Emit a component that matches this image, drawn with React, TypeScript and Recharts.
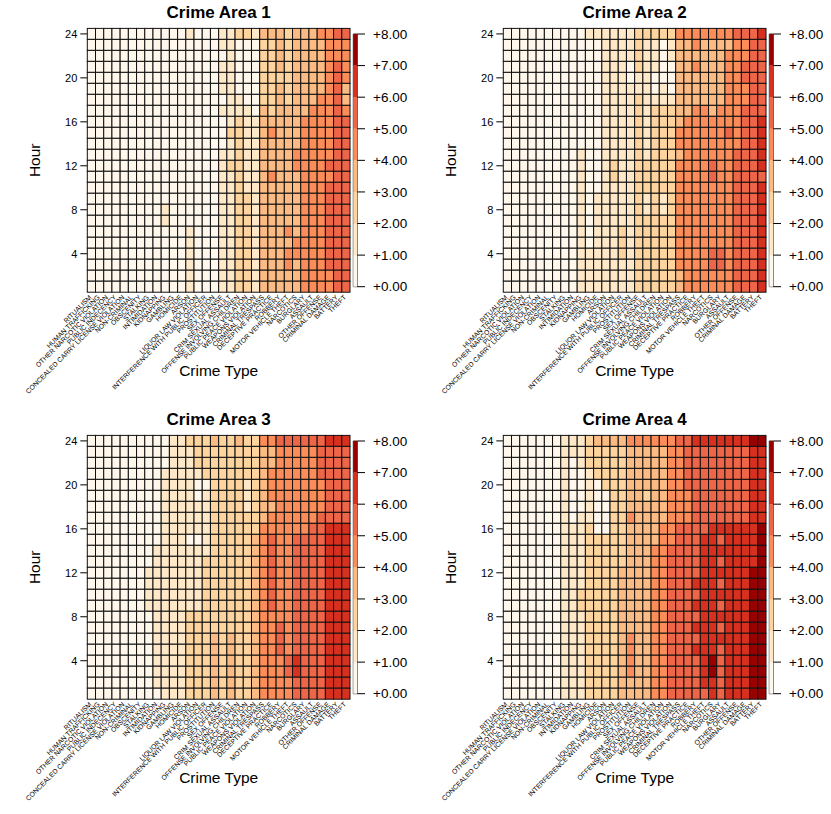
import React from 'react'
import { ScatterChart, Scatter, XAxis, YAxis, BarChart, Bar } from 'recharts'

// crime types, left to right on the x axis
const crimeTypes = [
  'RITUALISM', 'HUMAN TRAFFICKING', 'OTHER NARCOTIC VIOLATION', 'PUBLIC INDECENCY',
  'CONCEALED CARRY LICENSE VIOLATION', 'NON-CRIMINAL', 'OBSCENITY', 'STALKING',
  'INTIMIDATION', 'KIDNAPPING', 'GAMBLING', 'HOMICIDE', 'ARSON', 'LIQUOR LAW VIOLATION',
  'INTERFERENCE WITH PUBLIC OFFICER', 'PROSTITUTION', 'SEX OFFENSE', 'CRIM SEXUAL ASSAULT',
  'OFFENSE INVOLVING CHILDREN', 'PUBLIC PEACE VIOLATION', 'WEAPONS VIOLATION',
  'CRIMINAL TRESPASS', 'DECEPTIVE PRACTICE', 'ROBBERY', 'MOTOR VEHICLE THEFT', 'NARCOTICS',
  'BURGLARY', 'ASSAULT', 'OTHER OFFENSE', 'CRIMINAL DAMAGE', 'BATTERY', 'THEFT',
]

const hourTicks = [4, 8, 12, 16, 20, 24]
const colorTicks = [0, 1, 2, 3, 4, 5, 6, 7, 8]
const palette = ['#fff7ec', '#fee8c8', '#fdd49e', '#fdbb84', '#fc8d59', '#ef6548', '#d7301f', '#990000']

// one string per hour (top row = hour 24), one digit per crime type = level
const area1 = [
  '000000000000 1000 11221 3332333 4455',
  '000000000000 0000 11000 2232333 3444',
  '000000000000 0000 01000 2232333 3444',
  '000000000000 0000 11000 2232333 3454',
  '000000000000 0000 11000 2222333 3454',
  '000000000000 0000 11000 2232333 3453',
  '000000000000 0000 01100 2232333 4453',
  '000000000000 0000 11110 3233334 4454',
  '000000000000 0000 01211 3333344 4455',
  '000000000000 0000 02211 3433344 4455',
  '000000000000 0000 01211 3333344 4455',
  '000000000000 0000 11211 3333444 4455',
  '000000000000 0000 12211 3333444 4555',
  '000000000000 0000 11211 3433344 4455',
  '000000000000 0000 11211 3333344 4555',
  '000000000000 0000 11221 3333344 4555',
  '000000000100 0000 11221 3333344 4555',
  '000000000100 0000 11221 3333344 4555',
  '000000000000 1000 11221 3334344 4555',
  '000000000000 1000 11221 3333444 4555',
  '000000000000 1000 11221 3334444 4555',
  '000000000000 1000 11221 3334344 4555',
  '000000000000 1000 11221 3333344 4455',
  '000000000000 1000 11221 3333344 4455',
]

const area2 = [
  '000000000 0111111 22222 4444444 5556',
  '000000000 0001111 21101 3343333 4455',
  '000000000 0001111 21101 3333334 4455',
  '000000000 0001110 21100 3343334 4555',
  '000000000 0001110 11000 3333334 4555',
  '000000000 0001111 11010 3333334 4455',
  '000000000 0001111 21111 3333334 4455',
  '000000000 0001111 21222 3344344 4555',
  '000000000 0001111 21222 3444444 4556',
  '000000000 0001111 21222 4444445 4556',
  '000000000 0001111 21222 4444444 4556',
  '000000000 1001111 21222 3444444 5556',
  '000000000 1001211 22222 4444544 5556',
  '000000000 1001211 22222 4444544 5555',
  '000000000 1001111 22222 4444444 5556',
  '000000000 1011111 21212 4444444 5556',
  '000000000 1011111 21212 4444444 5556',
  '000000000 1011111 22222 4444444 5556',
  '000000000 1011121 22222 4444444 5556',
  '000000000 1011121 22222 4444444 5556',
  '000000000 1111121 22222 4444554 5556',
  '000000000 1111111 22222 4444554 5556',
  '000000000 1111111 22222 3444444 5556',
  '000000000 1111111 22222 3444444 5556',
]

const area3 = [
  '000000000 0112223 22322 4455555 5666',
  '000000000 0111222 22222 3344444 5555',
  '000000000 0111222 22222 3344444 5555',
  '000000000 1111122 22222 3444444 5555',
  '000000000 1111002 22212 3444444 4555',
  '000000000 1111012 22212 3444444 4555',
  '000000000 1111112 22212 3344444 4555',
  '000000000 1111112 22222 3444444 5555',
  '000000000 1111112 22222 4444445 5666',
  '000000000 1110012 22223 4544555 5666',
  '000000001 1111112 22223 4544555 5666',
  '000000001 1111122 22223 4544555 5666',
  '000000011 1111122 22223 4544555 5666',
  '000000011 1111122 22223 4544555 5666',
  '000000011 1111122 22223 4544555 5666',
  '000000011 1111122 22223 4544555 5666',
  '000000001 1112222 22223 4444555 5666',
  '000000001 1112222 22223 4454555 5666',
  '000000001 1112223 23223 4454555 5666',
  '000000001 1112223 23223 4454555 5666',
  '000000001 1112223 23223 4445655 5666',
  '000000001 1112223 23223 4445655 5666',
  '000000001 1112223 23223 4444555 5666',
  '000000000 1112223 23223 4444555 5666',
]

const area4 = [
  '000000011 1233334 44444 5566666 6677',
  '000000011 1222223 33334 4555555 5566',
  '000000010 1222223 33334 4555555 5566',
  '000000010 0122223 33334 4555555 5566',
  '000000010 0102223 33334 4555555 5566',
  '000000010 0100223 32334 4455555 5566',
  '000000010 0100223 33334 4455555 5566',
  '000000010 1100224 33334 4455555 5566',
  '000000011 1200223 33344 5555666 6667',
  '000000011 1222223 33344 5556656 6667',
  '000000011 1222223 33445 5556666 6667',
  '000000011 1222223 33445 5556656 6667',
  '000000011 1222233 33445 5556666 6677',
  '000000011 1222233 33445 5566656 6677',
  '000000011 2222233 33445 5556666 6677',
  '000000011 2222233 33445 5566656 6677',
  '000000011 1222233 33445 5556666 6677',
  '000000011 1222233 33445 5566656 6677',
  '000000011 1222234 33445 5556666 6677',
  '000000011 1222234 33445 5566656 6677',
  '000000011 1222234 33445 5556756 6677',
  '000000011 1222234 33445 5556756 6677',
  '000000011 1222233 33445 5556656 6677',
  '000000011 1222233 33445 5555656 6677',
]

const FONT = '"Liberation Sans", Arial, Helvetica, sans-serif'
const LEFT = 87.3
const RIGHT = 350
const TOP = 28.4
const BOTTOM = 292.2
const CHART_W = 352
const CHART_H = 400
const Y_W = 52.3
const X_H = 84
const CW = (RIGHT - LEFT) / crimeTypes.length
const CH = (BOTTOM - TOP) / 24

const colorOf = (v: number) => palette[Math.max(0, Math.min(palette.length - 1, Math.floor(v)))]

function toPoints(rows: string[]) {
  const pts: { x: number; y: number; v: number }[] = []
  rows.forEach((row, r) => {
    const s = row.replace(/ /g, '')
    for (let c = 0; c < s.length; c++) pts.push({ x: c + 1, y: 24 - r, v: Number(s[c]) })
  })
  return pts
}

const HeatCell = (props: any) => {
  const { cx, cy, payload } = props
  return (
    <rect x={cx - CW / 2} y={cy - CH / 2} width={CW} height={CH}
      fill={colorOf(payload.v)} stroke="#111" strokeWidth={1} />
  )
}

const XTick = (props: any) => {
  const { x, payload } = props
  const ax = x - 1
  const ay = BOTTOM + 4
  return (
    <text x={ax} y={ay} dy="0.35em" textAnchor="end" fontSize={6.8} fill="#000"
      transform={`rotate(-45, ${ax}, ${ay})`}>
      {crimeTypes[payload.value - 1]}
    </text>
  )
}

const colIdx = crimeTypes.map((_, i) => i + 1)
const cbData = [Object.fromEntries([['name', 'bar'], ...palette.map((_, i) => ['b' + i, 1])])]

function Panel({ title, rows, left, top }: { title: string; rows: string[]; left: number; top: number }) {
  const pts = toPoints(rows)
  return (
    <div style={{ position: 'absolute', left, top, width: 415, height: 407 }}>
      <svg width={415} height={30} style={{ position: 'absolute', left: 0, top: 0 }}>
        <text x={(LEFT + RIGHT) / 2} y={18} textAnchor="middle" fontWeight="bold" fontSize={17} fill="#000">
          {title}
        </text>
      </svg>
      <div style={{ position: 'absolute', left: 0, top: 0 }}>
        <ScatterChart width={CHART_W} height={CHART_H}
          margin={{ top: TOP, right: CHART_W - RIGHT, bottom: CHART_H - BOTTOM - X_H, left: LEFT - Y_W }}>
          <XAxis type="number" dataKey="x" domain={[0.5, crimeTypes.length + 0.5]} ticks={colIdx}
            interval={0} tick={<XTick />} tickLine={false} axisLine={false} height={X_H}
            label={{ value: 'Crime Type', position: 'insideBottom', offset: 0, fontSize: 15.5, fill: '#000' }} />
          <YAxis type="number" dataKey="y" domain={[0.5, 24.5]} ticks={hourTicks} interval={0}
            width={Y_W} tickSize={7} tickMargin={3} axisLine={false}
            tickLine={{ stroke: '#000' }} tick={{ fontSize: 11, fill: '#000' }}
            label={{ value: 'Hour', angle: -90, position: 'insideLeft', offset: 0, fontSize: 15.5, fill: '#000', style: { textAnchor: 'middle' } }} />
          <Scatter data={pts} shape={HeatCell} isAnimationActive={false} />
        </ScatterChart>
      </div>
      <div style={{ position: 'absolute', left: 345, top: 0 }}>
        <BarChart width={75} height={300} data={cbData} barCategoryGap={0}
          margin={{ top: 34, right: 0, bottom: 300 - 286.7, left: 8.3 }}>
          <XAxis dataKey="name" hide />
          <YAxis orientation="right" type="number" domain={[0, 8]} ticks={colorTicks} interval={0}
            tickFormatter={(v: number) => `+${v.toFixed(2)}`} width={62.7} tickSize={7.7} tickMargin={8}
            axisLine={false} tickLine={{ stroke: '#000' }} tick={{ fontSize: 13.5, fill: '#000', textAnchor: 'start' }} />
          {palette.map((c, i) => (
            <Bar key={i} dataKey={'b' + i} stackId="cb" fill={c} isAnimationActive={false}
              background={i === palette.length - 1 ? { fill: 'none', stroke: '#333', strokeWidth: 1 } : undefined} />
          ))}
        </BarChart>
      </div>
    </div>
  )
}

export default function App() {
  return (
    <div style={{ position: 'absolute', left: 0, top: 0, width: 831, height: 814, background: '#fff', fontFamily: FONT }}>
      <Panel title="Crime Area 1" rows={area1} left={0} top={0} />
      <Panel title="Crime Area 2" rows={area2} left={415.5} top={0} />
      <Panel title="Crime Area 3" rows={area3} left={0} top={407} />
      <Panel title="Crime Area 4" rows={area4} left={415.5} top={407} />
    </div>
  )
}
